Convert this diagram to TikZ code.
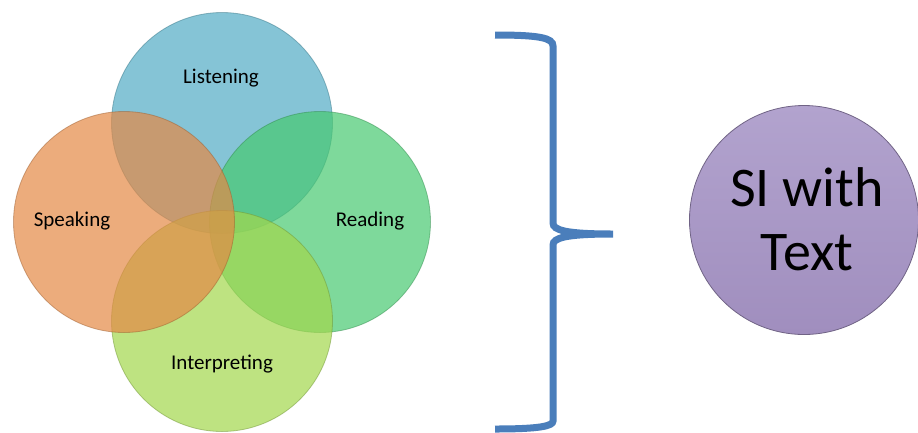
\documentclass[tikz,border=0pt]{standalone}
\usepackage{fontspec}
\setmainfont{Carlito}
\usepackage{tikz}
\usetikzlibrary{shapes.geometric}

\definecolor{listenCol}{RGB}{81,171,196}
\definecolor{speakCol}{RGB}{228,137,69}
\definecolor{readCol}{RGB}{71,201,112}
\definecolor{interpCol}{RGB}{162,215,76}
\definecolor{siTop}{RGB}{178,163,206}
\definecolor{siBottom}{RGB}{160,142,190}
\definecolor{braceCol}{RGB}{74,126,187}

\tikzset{
  skill/.style={circle,minimum size=221pt,inner sep=0pt,fill=#1,
    fill opacity=0.7,draw=#1!70!black,draw opacity=0.5,line width=0.8pt},
  skilltext/.style={font=\fontsize{21}{25}\selectfont,text=black,
    text opacity=1,inner sep=0pt}
}

\begin{document}
\begin{tikzpicture}[x=1pt,y=-1pt]
    \useasboundingbox (0,0) rectangle (918,432);
    % the four skills
    \node[skill=listenCol] (listen) at (222,123) {};
    \node[skill=readCol] (read) at (320,222) {};
    \node[skill=interpCol] (interp) at (222,321) {};
    \node[skill=speakCol] (speak) at (124,222) {};

    \node[skilltext] (listenTxt) at (221,78) {Listening};
    \node[skilltext] (speakTxt) at (72,221) {Speaking};
    \node[skilltext] (readTxt) at (370,221) {Reading};
    \node[skilltext] (interpTxt) at (222,364) {Interpreting};

    % the brace
    \draw[braceCol,line width=7pt]
      (495,35) .. controls (540,35) and (553,38) .. (553,46)
      -- (553,223) .. controls (553,230) and (565,234) .. (613,234)
      .. controls (565,234) and (553,238) .. (553,245)
      -- (553,421) .. controls (553,426) and (540,429) .. (495,429);

    % result
    \node[circle,minimum size=229pt,inner sep=0pt,top color=siTop,
      bottom color=siBottom,draw=siBottom!70!black,line width=0.8pt]
      (siText) at (804,220) {};
    \node[align=center,font=\fontsize{56}{64}\selectfont,inner sep=0pt]
      (siLabel) at (807,219) {SI with\\Text};
  \end{tikzpicture}
\end{document}
